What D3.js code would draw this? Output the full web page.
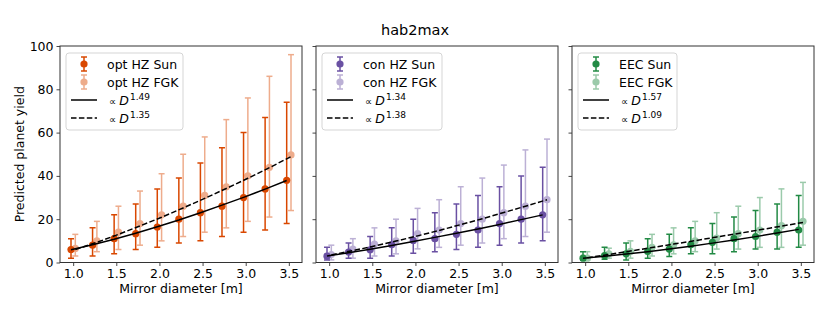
<!DOCTYPE html>
<html>
<head>
<meta charset="utf-8">
<script src="https://cdn.jsdelivr.net/npm/d3@7/dist/d3.min.js"></script>
<style>
  html, body { margin: 0; padding: 0; background: #fff; }
  text { font-family: "DejaVu Sans", sans-serif; }
</style>
</head>
<body>
<svg id="chart" width="830" height="311"></svg>
<script>
// ---------- DATA ----------
const diameters = [1.0, 1.25, 1.5, 1.75, 2.0, 2.25, 2.5, 2.75, 3.0, 3.25, 3.5];
const xTicks = [1.0, 1.5, 2.0, 2.5, 3.0, 3.5];
const yTicks = [0, 20, 40, 60, 80, 100];

// opt HZ
const optSun    = [6, 8, 11, 13.3, 16.4, 20, 23, 26, 30, 34, 38];
const optSunLo  = [2, 3, 4, 6, 7, 9, 10, 12, 14, 15, 18];
const optSunHi  = [11, 16, 22, 27, 34, 39, 46, 53, 60, 67, 74];
const optFGK    = [6.5, 10, 14, 18, 22, 26, 31, 35, 40, 44, 49.7];
const optFGKLo  = [3, 5, 6, 8, 10, 12, 14, 16, 19, 21, 24];
const optFGKHi  = [13, 19, 26, 33, 41, 50, 58, 66, 76, 86, 96];
const optFitSun = [5.9, 8.2, 10.7, 13.5, 16.5, 19.6, 23.0, 26.5, 30.1, 33.9, 37.9];
const optFitFGK = [6.0, 9.3, 13.0, 16.9, 20.9, 25.2, 29.6, 34.2, 38.9, 43.8, 48.9];

// con HZ
const conSun    = [2.9, 4.8, 5.9, 8.2, 10.2, 11, 13, 15, 18, 20, 22];
const conSunLo  = [1.2, 2, 2, 3, 4.3, 5, 6, 7, 8, 9, 10];
const conSunHi  = [7, 9, 12, 16, 20, 23, 27, 31, 35, 40, 44];
const conFGK    = [3.7, 6.2, 8.5, 10, 13.3, 15, 18, 20, 23, 26, 29];
const conFGKLo  = [1.2, 2, 3, 4, 6.3, 7, 8, 9, 11, 12, 14];
const conFGKHi  = [8, 11, 16, 20, 25, 29, 35, 39, 45, 52, 57];
const conFitSun = [3.0, 4.5, 6.1, 7.9, 9.7, 11.6, 13.5, 15.5, 17.6, 19.8, 22.0];
const conFitFGK = [3.5, 5.5, 7.6, 9.9, 12.3, 14.8, 17.5, 20.2, 23.1, 26.0, 29.0];

// EEC
const eecSun    = [2.0, 3.2, 4, 5.1, 6.2, 8.2, 9.3, 11, 12, 14, 15];
const eecSunLo  = [1, 1.5, 1.2, 2, 2.8, 4, 4, 5, 6.2, 6.2, 7];
const eecSunHi  = [5, 7, 9, 11, 13, 16, 18, 21, 24, 27, 31];
const eecFGK    = [2.0, 4, 5.1, 7, 8.2, 10, 11.3, 13.3, 15, 17, 19];
const eecFGKLo  = [1, 2, 2, 3, 4, 5, 6.2, 6.2, 7, 7, 8];
const eecFGKHi  = [5, 6.6, 10, 13, 16, 19, 23, 26, 30, 34, 37];
const eecFitSun = [2.0, 2.9, 3.9, 5.0, 6.25, 7.55, 8.95, 10.4, 11.95, 13.6, 15.3];
const eecFitFGK = [2.2, 3.7, 5.3, 6.9, 8.5, 10.1, 11.8, 13.4, 15.1, 16.8, 18.5];

const sunLabels = ["opt HZ Sun", "con HZ Sun", "EEC Sun"];
const fgkLabels = ["opt HZ FGK", "con HZ FGK", "EEC FGK"];
const sunExponents = ["1.49", "1.34", "1.57"];
const fgkExponents = ["1.35", "1.38", "1.09"];
const panelColors = ["#d94801", "#6a51a3", "#238b45"];

const titleText = "hab2max";
const xLabel = "Mirror diameter [m]";
const yLabel = "Predicted planet yield";

// ---------- LAYOUT ----------
const svg = d3.select("#chart");
const panelLefts = [60, 316, 572];
const panelW = 242;
const plotTop = 46, plotBottom = 262.5;
const offset = 0.025;

const panels = [
  {sun: optSun, sunLo: optSunLo, sunHi: optSunHi, fgk: optFGK, fgkLo: optFGKLo, fgkHi: optFGKHi, fitSun: optFitSun, fitFGK: optFitFGK},
  {sun: conSun, sunLo: conSunLo, sunHi: conSunHi, fgk: conFGK, fgkLo: conFGKLo, fgkHi: conFGKHi, fitSun: conFitSun, fitFGK: conFitFGK},
  {sun: eecSun, sunLo: eecSunLo, sunHi: eecSunHi, fgk: eecFGK, fgkLo: eecFGKLo, fgkHi: eecFGKHi, fitSun: eecFitSun, fitFGK: eecFitFGK}
];

const fs = 12.5;

svg.append("text")
  .attr("x", 415).attr("y", 35)
  .attr("text-anchor", "middle")
  .attr("font-size", 14.5)
  .text(titleText);

svg.append("text")
  .attr("transform", `translate(24,${(plotTop + plotBottom) / 2}) rotate(-90)`)
  .attr("text-anchor", "middle")
  .attr("font-size", fs)
  .text(yLabel);

panels.forEach((p, i) => {
  const left = panelLefts[i];
  const x = d3.scaleLinear().domain([0.8475, 3.6525]).range([left, left + panelW]);
  const y = d3.scaleLinear().domain([0, 100]).range([plotBottom, plotTop]);
  const color = panelColors[i];
  const g = svg.append("g");

  const clipId = "clip" + i;
  svg.append("clipPath").attr("id", clipId)
    .append("rect").attr("x", left).attr("y", plotTop).attr("width", panelW).attr("height", plotBottom - plotTop);
  const plot = g.append("g").attr("clip-path", `url(#${clipId})`);

  function drawSeries(vals, lo, hi, dx, opacity) {
    const sg = plot.append("g").attr("opacity", opacity);
    diameters.forEach((d, k) => {
      const cx = x(d + dx);
      sg.append("line").attr("x1", cx).attr("x2", cx)
        .attr("y1", y(lo[k])).attr("y2", y(hi[k]))
        .attr("stroke", color).attr("stroke-width", 1.5);
      [lo[k], hi[k]].forEach(v => {
        sg.append("line").attr("x1", cx - 3).attr("x2", cx + 3)
          .attr("y1", y(v)).attr("y2", y(v))
          .attr("stroke", color).attr("stroke-width", 1.5);
      });
      sg.append("circle").attr("cx", cx).attr("cy", y(vals[k])).attr("r", 3.6)
        .attr("fill", color);
    });
  }
  drawSeries(p.sun, p.sunLo, p.sunHi, -offset, 1);
  drawSeries(p.fgk, p.fgkLo, p.fgkHi, offset, 0.45);

  const lineSun = d3.line().x((v, k) => x(diameters[k] - offset)).y(v => y(v));
  const lineFGK = d3.line().x((v, k) => x(diameters[k] + offset)).y(v => y(v));
  plot.append("path").attr("d", lineSun(p.fitSun))
    .attr("fill", "none").attr("stroke", "#000").attr("stroke-width", 1.5);
  plot.append("path").attr("d", lineFGK(p.fitFGK))
    .attr("fill", "none").attr("stroke", "#000").attr("stroke-width", 1.5)
    .attr("stroke-dasharray", "5.5,2.4");

  const xAxis = d3.axisBottom(x).tickValues(xTicks).tickFormat(d3.format(".1f")).tickSize(3.5).tickPadding(3);
  const gx = g.append("g").attr("transform", `translate(0,${plotBottom})`).call(xAxis);
  const yAxis = d3.axisLeft(y).tickValues(yTicks).tickSize(3.5).tickPadding(3)
    .tickFormat(i === 0 ? d3.format("d") : () => "");
  const gy = g.append("g").attr("transform", `translate(${left},0)`).call(yAxis);
  [gx, gy].forEach(a => {
    a.select(".domain").remove();
    a.selectAll("text").attr("font-size", fs).attr("fill", "#000").attr("font-family", "DejaVu Sans, sans-serif");
    a.selectAll("line").attr("stroke", "#333").attr("stroke-width", 0.9);
  });

  g.append("rect").attr("x", left).attr("y", plotTop).attr("width", panelW).attr("height", plotBottom - plotTop)
    .attr("fill", "none").attr("stroke", "#333").attr("stroke-width", 1);

  g.append("text")
    .attr("x", left + panelW / 2).attr("y", 293)
    .attr("text-anchor", "middle").attr("font-size", fs)
    .text(xLabel);

  const lx = left + 6, ly = 53;
  const legW = [117, 120, 99][i];
  const lg = g.append("g");
  lg.append("rect").attr("x", lx).attr("y", ly).attr("width", legW).attr("height", 77)
    .attr("rx", 3).attr("fill", "#fff").attr("fill-opacity", 0.8)
    .attr("stroke", "#d0d0d0").attr("stroke-width", 0.9);
  const rows = [64, 82, 100, 118];
  const mx = lx + 18;
  [[1, sunLabels[i]], [0.45, fgkLabels[i]]].forEach(([op, lab], r) => {
    const ry = rows[r];
    const mg = lg.append("g").attr("opacity", op);
    mg.append("line").attr("x1", mx).attr("x2", mx).attr("y1", ry - 7).attr("y2", ry + 7)
      .attr("stroke", color).attr("stroke-width", 1.5);
    [ry - 7, ry + 7].forEach(yy => mg.append("line").attr("x1", mx - 3).attr("x2", mx + 3)
      .attr("y1", yy).attr("y2", yy).attr("stroke", color).attr("stroke-width", 1.5));
    mg.append("circle").attr("cx", mx).attr("cy", ry).attr("r", 3.6).attr("fill", color);
    lg.append("text").attr("x", lx + 41).attr("y", ry + 4.5).attr("font-size", fs).text(lab);
  });
  [[sunExponents[i], null], [fgkExponents[i], "5.5,2.4"]].forEach(([ex, dash], r) => {
    const ry = rows[r + 2];
    const ln = lg.append("line").attr("x1", lx + 5).attr("x2", lx + 31).attr("y1", ry).attr("y2", ry)
      .attr("stroke", "#000").attr("stroke-width", 1.5);
    if (dash) ln.attr("stroke-dasharray", dash);
    const t = lg.append("text").attr("x", lx + 43).attr("y", ry + 4.5).attr("font-size", fs);
    t.append("tspan").attr("font-size", 10).text("∝ ");
    t.append("tspan").attr("font-style", "italic").text("D");
    t.append("tspan").attr("font-size", 9).attr("dy", -5).attr("dx", 1).text(ex);
  });
});
</script>
</body>
</html>
